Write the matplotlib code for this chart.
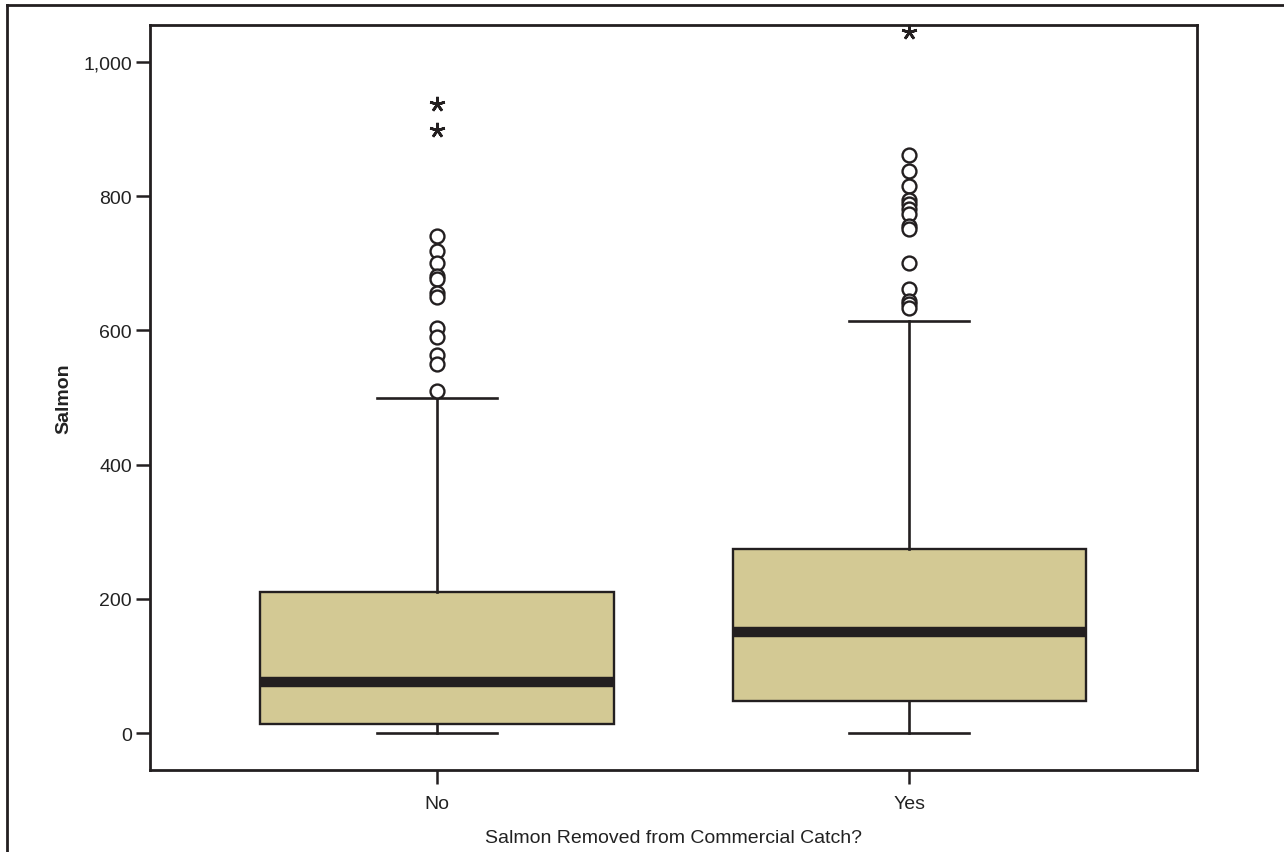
import matplotlib.pyplot as plt
from matplotlib.lines import Line2D

plt.rcParams['font.family'] = ['Liberation Sans', 'DejaVu Sans']

groups = ['No', 'Yes']
q1 = [13, 48]
medians = [76, 150]
q3 = [210, 274]
whisker_low = [0, 0]
whisker_high = [500, 614]
outliers = [
    [741, 719, 700, 681, 676, 656, 649, 603, 590, 563, 550, 510],
    [861, 838, 815, 795, 788, 781, 774, 756, 751, 701, 661, 644, 639, 633],
]
extremes = [[937, 898], [1045]]

ink = '#231f20'
fill = '#d3c994'

stats = []
for i, name in enumerate(groups):
    stats.append({
        'label': name,
        'q1': q1[i], 'med': medians[i], 'q3': q3[i],
        'whislo': whisker_low[i], 'whishi': whisker_high[i],
        'fliers': outliers[i],
    })

fig = plt.figure(figsize=(12.84, 8.53), dpi=100)
ax = fig.add_axes([150 / 1284, 82 / 853, 1047 / 1284, 745 / 853])

positions = [1, 2]
ax.bxp(stats, positions=positions, widths=0.748, capwidths=0.254,
       patch_artist=True,
       boxprops=dict(facecolor=fill, edgecolor=ink, linewidth=1.7),
       medianprops=dict(color=ink, linewidth=7.5, solid_capstyle='butt'),
       whiskerprops=dict(color=ink, linewidth=1.9),
       capprops=dict(color=ink, linewidth=1.9),
       flierprops=dict(marker='o', markersize=10, markerfacecolor='white',
                       markeredgecolor=ink, markeredgewidth=1.7, linestyle='none'))

# extreme values drawn as asterisks
for pos, vals in zip(positions, extremes):
    ax.plot([pos] * len(vals), vals, linestyle='none', marker=(5, 2, 0),
            markersize=11, markeredgewidth=1.9, color=ink, clip_on=False)

ax.set_xlim(0.392, 2.61)
ax.set_ylim(-55, 1055)
ax.set_yticks([0, 200, 400, 600, 800, 1000])
ax.set_yticklabels(['0', '200', '400', '600', '800', '1,000'])
ax.set_xticks(positions)
ax.set_xticklabels(groups)

for side in ax.spines.values():
    side.set_linewidth(2)
    side.set_color(ink)
ax.tick_params(axis='both', colors=ink, labelcolor='#222222', width=1.8,
               length=10, labelsize=14, direction='out')
ax.tick_params(axis='y', pad=3)
ax.tick_params(axis='x', pad=8)

ax.set_xlabel('Salmon Removed from Commercial Catch?', fontsize=14,
              color='#222222', labelpad=12)
ax.set_ylabel('Salmon', fontsize=14, fontweight='bold', color='#222222',
              labelpad=8)

# outer frame: top and left edges
fig.add_artist(Line2D([7 / 1284, 1284 / 1284], [1 - 6 / 853, 1 - 6 / 853],
                      transform=fig.transFigure, color=ink, linewidth=2))
fig.add_artist(Line2D([7 / 1284, 7 / 1284], [0, 1 - 6 / 853],
                      transform=fig.transFigure, color=ink, linewidth=2))

fig.savefig('out.png', dpi=100)
